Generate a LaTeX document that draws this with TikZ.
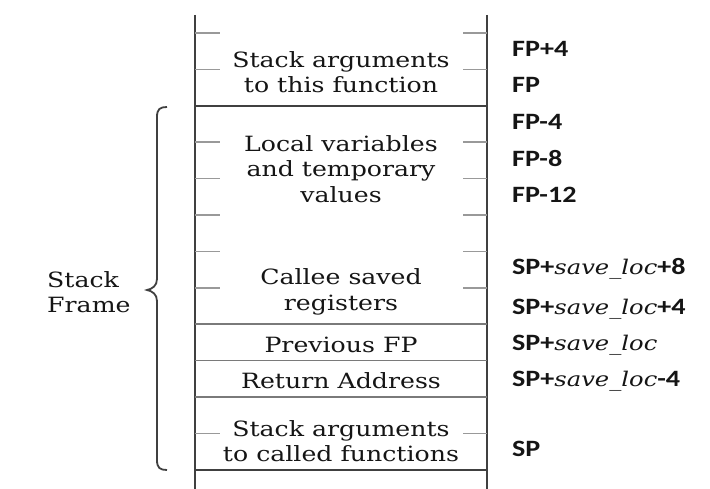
\documentclass[tikz,border=0pt]{standalone}
\usepackage{fontspec}
\setmainfont{DejaVu Serif}[FakeStretch=1.2]
\newfontfamily\lblfamily{Carlito}[FakeStretch=1.2]
\newfontfamily\itfamily{DejaVu Serif}[FakeStretch=1.2]
\newcommand\cellfont{\fontsize{21}{25.5}\selectfont}
\newcommand\addrfont{\lblfamily\bfseries\fontsize{23.4}{28}\selectfont}
\newcommand\sv{{\itfamily\mdseries\itshape\fontsize{20.2}{25}\selectfont save\_loc}}
\definecolor{linedark}{HTML}{404040}
\definecolor{sepgray}{HTML}{7A7A7A}
\definecolor{ticklight}{HTML}{999999}
\definecolor{txt}{HTML}{151515}
\begin{document}
\begin{tikzpicture}[x=1pt,y=-1pt,
  frame/.style={draw=linedark, line width=1.8pt},
  tickline/.style={draw=ticklight, line width=1.6pt},
  sepline/.style={draw=sepgray, line width=1.5pt},
  sepdark/.style={draw=linedark, line width=1.8pt},
  bracepath/.style={draw=linedark, line width=1.8pt},
  cell/.style={align=center, inner sep=0pt, font=\cellfont, text=txt},
  addr/.style={anchor=base west, inner sep=0pt, font=\addrfont, text=txt},
]
\useasboundingbox (0,0) rectangle (710,489);
% frame
\draw[frame] (195,15) -- (195,489);
\draw[frame] (487,15) -- (487,489);
% ticks
\foreach \y in {33,69.4,142.2,178.6,215,251.4,287.8,433.4} {
  \draw[tickline] (195,\y) -- (220,\y);
  \draw[tickline] (463,\y) -- (487,\y);
}
% separators
\draw[sepdark] (195,105.8) -- (487,105.8);
\draw[sepline] (195,324.2) -- (487,324.2);
\draw[sepline] (195,360.6) -- (487,360.6);
\draw[sepline] (195,397) -- (487,397);
\draw[sepdark] (195,469.8) -- (487,469.8);
% cells
\node[cell] (argsin) at (341,72) {Stack arguments\\to this function};
\node[cell] (locals) at (341,169) {Local variables\\and temporary\\values};
\node[cell] (callee) at (341,292) {Callee saved\\registers};
\node[cell] (prevfp) at (341,345) {Previous FP};
\node[cell] (retaddr) at (341,381) {Return Address};
\node[cell] (argsout) at (341,441) {Stack arguments\\to called functions};
% addresses
\node[addr] (a1) at (512,56.7) {FP+4};
\node[addr] (a2) at (512,92.7) {FP};
\node[addr] (a3) at (512,130) {FP-4};
\node[addr] (a4) at (512,166.7) {FP-8};
\node[addr] (a5) at (512,203) {FP-12};
\node[addr] (a6) at (512,275) {SP+\sv+8};
\node[addr] (a7) at (512,315) {SP+\sv+4};
\node[addr] (a8) at (512,350) {SP+\sv};
\node[addr] (a9) at (512,386.7) {SP+\sv-4};
\node[addr] (a10) at (512,456.7) {SP};
% brace
\draw[bracepath] (167,107) .. controls (160,107) and (157,109) .. (157,117) -- (157,279)
  .. controls (157,286) and (152,289) .. (147,290)
  .. controls (152,291) and (157,294) .. (157,301) -- (157,460)
  .. controls (157,468) and (160,470) .. (167,470);
\node[cell, align=left, anchor=west] (sframe) at (47,292) {Stack\\Frame};
\end{tikzpicture}
\end{document}
